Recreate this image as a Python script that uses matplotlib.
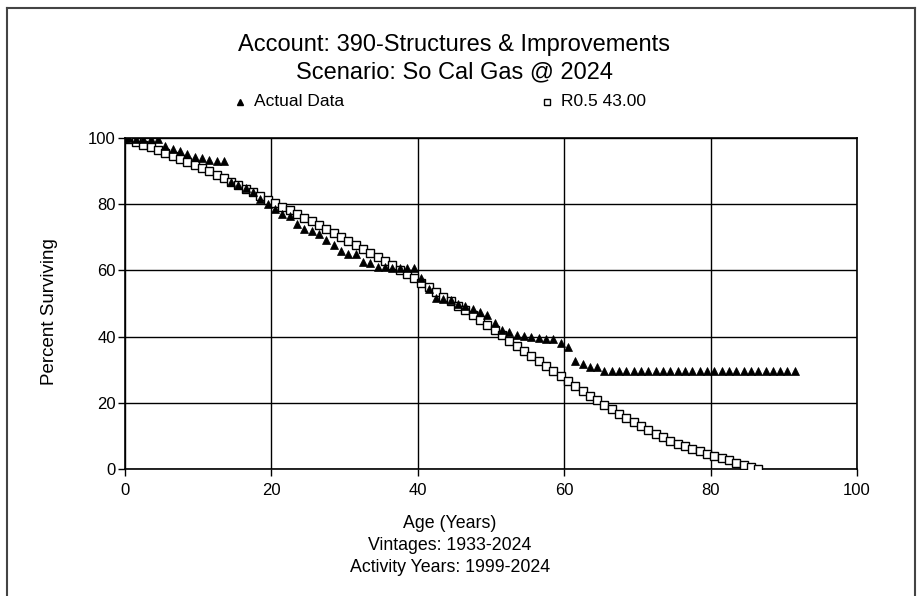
import matplotlib
matplotlib.use("Agg")
import matplotlib.pyplot as plt
from matplotlib.lines import Line2D

plt.rcParams['font.family'] = ['Liberation Sans', 'DejaVu Sans']

# Observed survivorship (Actual Data): ages 0, 0.5, 1.5, ..., 91.5
actual_age = [0.0] + [i + 0.5 for i in range(92)]
actual_pct = [
    100.0, 100.0, 99.8, 99.8, 99.8, 99.8,
    97.6, 96.8, 96.0, 95.2, 94.4, 93.9, 93.5, 93.1, 93.0,
    86.8, 85.8, 85.0, 83.6, 81.5, 80.0, 78.5, 77.0, 76.5, 74.1,
    72.6, 71.8, 71.1, 69.1, 67.8, 65.8, 65.1, 65.1, 62.6, 62.2,
    61.1, 61.0, 60.8, 60.7, 60.6, 60.6, 57.6, 54.5, 51.6, 51.4,
    51.2, 50.0, 49.3, 48.4, 47.5, 46.6, 44.0, 42.0, 41.4, 40.4,
    40.1, 40.0, 39.5, 39.4, 39.4, 38.2, 36.9, 32.5, 31.6, 30.9,
    30.8, 29.7, 29.6, 29.6, 29.6, 29.6, 29.6, 29.6, 29.6, 29.6,
    29.6, 29.6, 29.6, 29.6, 29.6, 29.6, 29.6, 29.6, 29.6, 29.6,
    29.6, 29.6, 29.6, 29.6, 29.6, 29.6, 29.6, 29.6,
]

# Fitted Iowa curve R0.5 with 43.00 average life: ages 0, 0.5, 1.5, ..., 86.5
curve_age = [0.0] + [i + 0.5 for i in range(87)]
curve_pct = [
    100.0, 99.6, 98.8, 98.0, 97.2, 96.4, 95.5, 94.6, 93.7, 92.8,
    91.9, 90.9, 89.9, 88.9, 87.9, 86.8, 85.8, 84.7, 83.6, 82.5,
    81.4, 80.3, 79.2, 78.1, 77.0, 75.9, 74.8, 73.6, 72.5, 71.3,
    70.1, 68.9, 67.7, 66.5, 65.3, 64.0, 62.8, 61.5, 60.2, 58.9,
    57.6, 56.2, 54.9, 53.5, 52.1, 50.7, 49.3, 47.9, 46.5, 45.0,
    43.6, 42.0, 40.4, 38.8, 37.2, 35.6, 34.0, 32.5, 31.0, 29.5,
    28.0, 26.5, 25.0, 23.5, 22.1, 20.7, 19.3, 18.0, 16.7, 15.4,
    14.1, 12.9, 11.7, 10.6, 9.6, 8.6, 7.7, 6.8, 6.0, 5.3,
    4.6, 4.0, 3.3, 2.6, 1.9, 1.3, 0.6, 0.0,
]

x_ticks = [0, 20, 40, 60, 80, 100]
y_ticks = [0, 20, 40, 60, 80, 100]

title_lines = ["Account: 390-Structures & Improvements", "Scenario: So Cal Gas @ 2024"]
legend_labels = ["Actual Data", "R0.5 43.00"]
x_label_lines = ["Age (Years)", "Vintages: 1933-2024", "Activity Years: 1999-2024"]

W, H = 922, 596
fig = plt.figure(figsize=(W / 100, H / 100), dpi=100)

def fx(px):
    return px / W

def fy(py):
    return 1 - py / H

ax = fig.add_axes([fx(125), fy(469), fx(857) - fx(125), fy(138) - fy(469)])

ax.plot(curve_age, curve_pct, linestyle='none', marker='s', markersize=5.8,
        markerfacecolor='white', markeredgecolor='black', markeredgewidth=1.0,
        zorder=3)
ax.plot(actual_age, actual_pct, linestyle='none', marker='^', markersize=5.8,
        markerfacecolor='black', markeredgecolor='black', markeredgewidth=0.5,
        zorder=4)

ax.set_xlim(0, 100)
ax.set_ylim(0, 100)
ax.set_xticks(x_ticks)
ax.set_yticks(y_ticks)
ax.grid(True, color='black', linewidth=1.0)
ax.set_axisbelow(True)
for s in ax.spines.values():
    s.set_color('black')
    s.set_linewidth(1.2)
ax.tick_params(direction='out', length=5, width=1.0, colors='black',
               labelsize=12)
ax.tick_params(axis='x', pad=5)
ax.tick_params(axis='y', pad=1.5)

# Title and legend
fig.text(fx(454), fy(45), title_lines[0], ha='center', va='center', fontsize=17)
fig.text(fx(454), fy(72), title_lines[1], ha='center', va='center', fontsize=17)

fig.add_artist(Line2D([fx(240)], [fy(102)], marker='^', markersize=5,
                      markerfacecolor='black', markeredgecolor='black',
                      transform=fig.transFigure))
fig.text(fx(254), fy(102), legend_labels[0], ha='left', va='center', fontsize=12.5)
fig.add_artist(Line2D([fx(547)], [fy(102)], marker='s', markersize=5,
                      markerfacecolor='white', markeredgecolor='black',
                      markeredgewidth=1.0, transform=fig.transFigure))
fig.text(fx(561), fy(102), legend_labels[1], ha='left', va='center', fontsize=12.5)

# Axis labels
fig.text(fx(50), fy(312), "Percent Surviving", rotation=90, ha='center',
         va='center', fontsize=13.5)
for i, line in enumerate(x_label_lines):
    fig.text(fx(450), fy(524 + 22 * i), line, ha='center', va='center', fontsize=12.8)

# Outer frame
frame_kw = dict(color='#444444', linewidth=1.5, transform=fig.transFigure)
fig.add_artist(Line2D([fx(7), fx(915)], [fy(8), fy(8)], **frame_kw))
fig.add_artist(Line2D([fx(7), fx(7)], [fy(8), 0], **frame_kw))
fig.add_artist(Line2D([fx(915), fx(915)], [fy(8), 0], **frame_kw))

fig.savefig("out.png", dpi=100)
